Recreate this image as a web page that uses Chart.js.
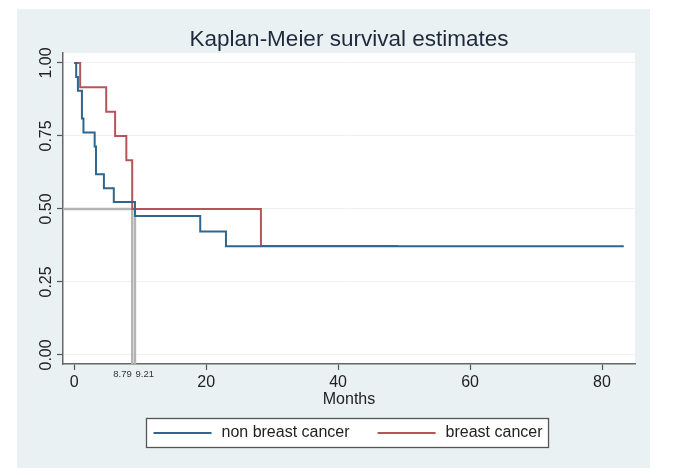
<!DOCTYPE html>
<html>
<head>
<meta charset="utf-8">
<title>Kaplan-Meier survival estimates</title>
<script src="https://cdn.jsdelivr.net/npm/chart.js@4.4.1/dist/chart.umd.min.js"></script>
<style>
    html, body { margin: 0; padding: 0; background: #fff; }
    #wrap { width: 678px; height: 475px; }
</style>
</head>
<body>
<div id="wrap"><canvas id="kmChart" width="678" height="475"></canvas></div>
<script>
// Survival steps (months, survival probability)
const nonBreastMonths = [0, 0.3, 0.56, 1.17, 1.4, 3.1, 3.3, 4.5, 6.0, 9.21, 19.1, 23.0, 83.3];
const nonBreastSurvival = [1, 0.952, 0.905, 0.810, 0.762, 0.714, 0.619, 0.571, 0.524, 0.476, 0.423, 0.372, 0.372];
const breastMonths = [0, 0.9, 4.85, 6.2, 7.9, 8.79, 28.3, 49.1];
const breastSurvival = [1, 0.917, 0.833, 0.75, 0.667, 0.5, 0.373, 0.373];
const seriesLabels = ['non breast cancer', 'breast cancer'];
const medianMonths = [8.79, 9.21];
const medianSurvival = 0.5;
const xTickValues = [0, 20, 40, 60, 80];
const yTickValues = [0, 0.25, 0.5, 0.75, 1];

const X_MIN = -1.7, X_MAX = 85;
const Y_MIN = -0.031, Y_MAX = 1.034;
const FONT = '"Liberation Sans", Arial, sans-serif';

Chart.defaults.font.family = FONT;
Chart.defaults.color = '#222';

function toPoints(xs, ys) {
    return xs.map((x, i) => ({ x: x, y: ys[i] }));
}

// Stata-like panel: light grey graph region, white plot region
const stataBackground = {
    id: 'stataBackground',
    beforeDraw(chart) {
        const { ctx, chartArea } = chart;
        ctx.save();
        ctx.fillStyle = '#ffffff';
        ctx.fillRect(0, 0, chart.width, chart.height);
        ctx.fillStyle = '#eaf1f3';
        ctx.fillRect(17, 9, 633, 459);
        ctx.fillStyle = '#ffffff';
        ctx.fillRect(chartArea.left, chartArea.top, chartArea.right - chartArea.left, chartArea.bottom - chartArea.top);
        ctx.restore();
    }
};

// rotated y labels, median labels and the boxed legend
const extraLabels = {
    id: 'extraLabels',
    afterDraw(chart) {
        const { ctx, chartArea } = chart;
        const xs = chart.scales.x, ys = chart.scales.y;
        ctx.save();
        ctx.fillStyle = '#222';
        ctx.font = '16px ' + FONT;
        ctx.textAlign = 'center';
        ctx.textBaseline = 'middle';
        yTickValues.forEach(v => {
            ctx.save();
            ctx.translate(46.5, ys.getPixelForValue(v));
            ctx.rotate(-Math.PI / 2);
            ctx.fillText(v.toFixed(2), 0, 0);
            ctx.restore();
        });

        ctx.font = '9.5px ' + FONT;
        ctx.fillStyle = '#333';
        ctx.textAlign = 'right';
        ctx.fillText(medianMonths[0].toFixed(2), xs.getPixelForValue(medianMonths[0]) - 0.5, 374);
        ctx.textAlign = 'left';
        ctx.fillText(medianMonths[1].toFixed(2), xs.getPixelForValue(medianMonths[1]) + 0.5, 374);

        // legend
        ctx.font = '16px ' + FONT;
        const ds = chart.data.datasets;
        const w0 = ctx.measureText(seriesLabels[0]).width;
        const w1 = ctx.measureText(seriesLabels[1]).width;
        const lineLen = 58, gap = 10, itemGap = 28, padL = 7, padR = 6;
        const total = padL + lineLen + gap + w0 + itemGap + lineLen + gap + w1 + padR;
        const cx = (chartArea.left + chartArea.right) / 2 - 2;
        const boxLeft = Math.round(cx - total / 2) + 0.5;
        const boxTop = 418.5, boxH = 29, mid = 433;
        ctx.fillStyle = '#ffffff';
        ctx.fillRect(boxLeft, boxTop, total, boxH);
        ctx.strokeStyle = '#555';
        ctx.lineWidth = 1.3;
        ctx.strokeRect(boxLeft, boxTop, total, boxH);

        let px = boxLeft + padL;
        [[0, w0], [1, w1]].forEach(([i, w]) => {
            ctx.strokeStyle = ds[i].borderColor;
            ctx.lineWidth = 1.8;
            ctx.beginPath();
            ctx.moveTo(px, mid);
            ctx.lineTo(px + lineLen, mid);
            ctx.stroke();
            px += lineLen + gap;
            ctx.fillStyle = '#222';
            ctx.textAlign = 'left';
            ctx.fillText(seriesLabels[i], px, mid);
            px += w + itemGap;
        });
        ctx.restore();
    }
};

const refStyle = {
    borderColor: '#b4b4b4',
    backgroundColor: '#b4b4b4',
    borderWidth: 2.4,
    pointRadius: 0,
    fill: false,
    stepped: false
};

new Chart(document.getElementById('kmChart'), {
    type: 'line',
    data: {
        datasets: [
            {
                label: seriesLabels[0],
                data: toPoints(nonBreastMonths, nonBreastSurvival),
                borderColor: '#2f6690',
                backgroundColor: '#2f6690',
                borderWidth: 2,
                pointRadius: 0,
                fill: false,
                stepped: 'before'
            },
            {
                label: seriesLabels[1],
                data: toPoints(breastMonths, breastSurvival),
                borderColor: '#b5555a',
                backgroundColor: '#b5555a',
                borderWidth: 2,
                pointRadius: 0,
                fill: false,
                stepped: 'before'
            },
            { ...refStyle, label: 'median', data: [{ x: X_MIN, y: medianSurvival }, { x: medianMonths[1], y: medianSurvival }] },
            { ...refStyle, label: 'median 1', data: [{ x: medianMonths[0], y: medianSurvival }, { x: medianMonths[0], y: Y_MIN }] },
            { ...refStyle, label: 'median 2', data: [{ x: medianMonths[1], y: medianSurvival }, { x: medianMonths[1], y: Y_MIN }] }
        ]
    },
    options: {
        responsive: false,
        animation: false,
        layout: { padding: { left: 17, right: 43, top: 0, bottom: 64 } },
        plugins: {
            legend: { display: false },
            tooltip: { enabled: false },
            title: {
                display: true,
                text: 'Kaplan-Meier survival estimates',
                fullSize: false,
                color: '#1e2a3c',
                font: { size: 22.5, weight: 'normal' },
                padding: { top: 26, bottom: 0 }
            }
        },
        scales: {
            x: {
                type: 'linear',
                min: X_MIN,
                max: X_MAX,
                afterBuildTicks: s => { s.ticks = xTickValues.map(v => ({ value: v })); },
                afterFit: s => { s.height = 47; },
                grid: { drawOnChartArea: false, tickLength: 6, tickColor: '#555', tickWidth: 1.2 },
                border: { color: '#666', width: 1.5 },
                ticks: { color: '#222', font: { size: 16 }, padding: 3, maxRotation: 0, autoSkip: false },
                title: { display: true, text: 'Months', color: '#222', font: { size: 16 }, padding: { top: 0, bottom: 2 } }
            },
            y: {
                type: 'linear',
                min: Y_MIN,
                max: Y_MAX,
                afterBuildTicks: s => { s.ticks = yTickValues.map(v => ({ value: v })); },
                afterFit: s => { s.width = 46; },
                grid: { color: '#edf1f1', tickLength: 6, tickColor: '#555', tickWidth: 1.2 },
                border: { color: '#666', width: 1.5 },
                ticks: { display: false }
            }
        }
    },
    plugins: [stataBackground, extraLabels]
});
</script>
</body>
</html>
